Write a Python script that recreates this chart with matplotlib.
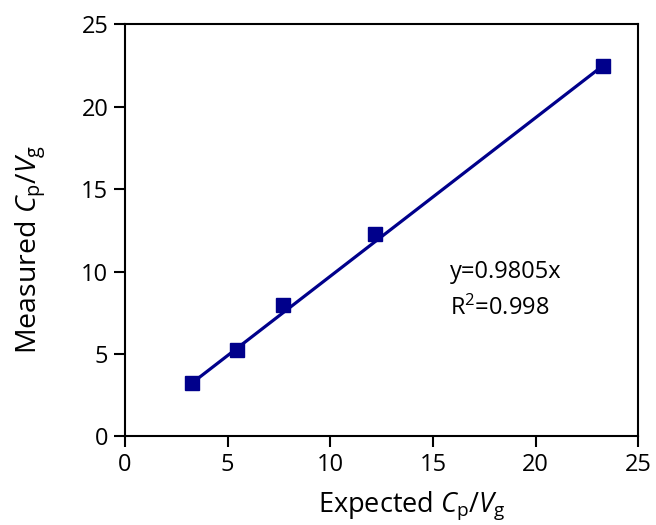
import matplotlib
matplotlib.use('Agg')
import matplotlib.pyplot as plt

plt.rcParams['font.family'] = 'Open Sans'
plt.rcParams['mathtext.fontset'] = 'custom'
plt.rcParams['mathtext.rm'] = 'Open Sans'
plt.rcParams['mathtext.it'] = 'Open Sans:italic'

expected = [3.25, 5.45, 7.7, 12.15, 23.27]
measured = [3.23, 5.25, 7.95, 12.3, 22.5]
fit_text = 'y=0.9805x'
r2_text = r'R$^2$=0.998'

fig = plt.figure(figsize=(6.56, 5.25), dpi=100)
ax = fig.add_axes([0.1905, 0.1686, 0.7828, 0.7848])

# trend line drawn end to end across the data
ax.plot([expected[0], expected[-1]], [measured[0], measured[-1]],
        color='#00008B', linewidth=2.3)
ax.plot(expected, measured, 's', color='#00008B', markersize=9.5, linestyle='none')

ax.set_xlim(0, 25)
ax.set_ylim(0, 25)
ax.set_xticks([0, 5, 10, 15, 20, 25])
ax.set_yticks([0, 5, 10, 15, 20, 25])
ax.tick_params(labelsize=17, width=1.5, length=8, direction='out', pad=4)
for s in ax.spines.values():
    s.set_linewidth(1.5)

ax.set_xlabel(r'Expected $\mathit{C}_{\mathrm{p}}/\mathit{V}_{\mathrm{g}}$', fontsize=19.5, labelpad=9)
ax.set_ylabel(r'Measured $\mathit{C}_{\mathrm{p}}/\mathit{V}_{\mathrm{g}}$', fontsize=20.5, labelpad=24)
ax.xaxis.label.set_x(0.559)
ax.yaxis.label.set_y(0.453)

ax.text(15.83, 9.62, fit_text, fontsize=17, va='baseline')
ax.text(15.83, 7.38, r2_text, fontsize=17, va='baseline')

fig.savefig('out.png', dpi=100)
